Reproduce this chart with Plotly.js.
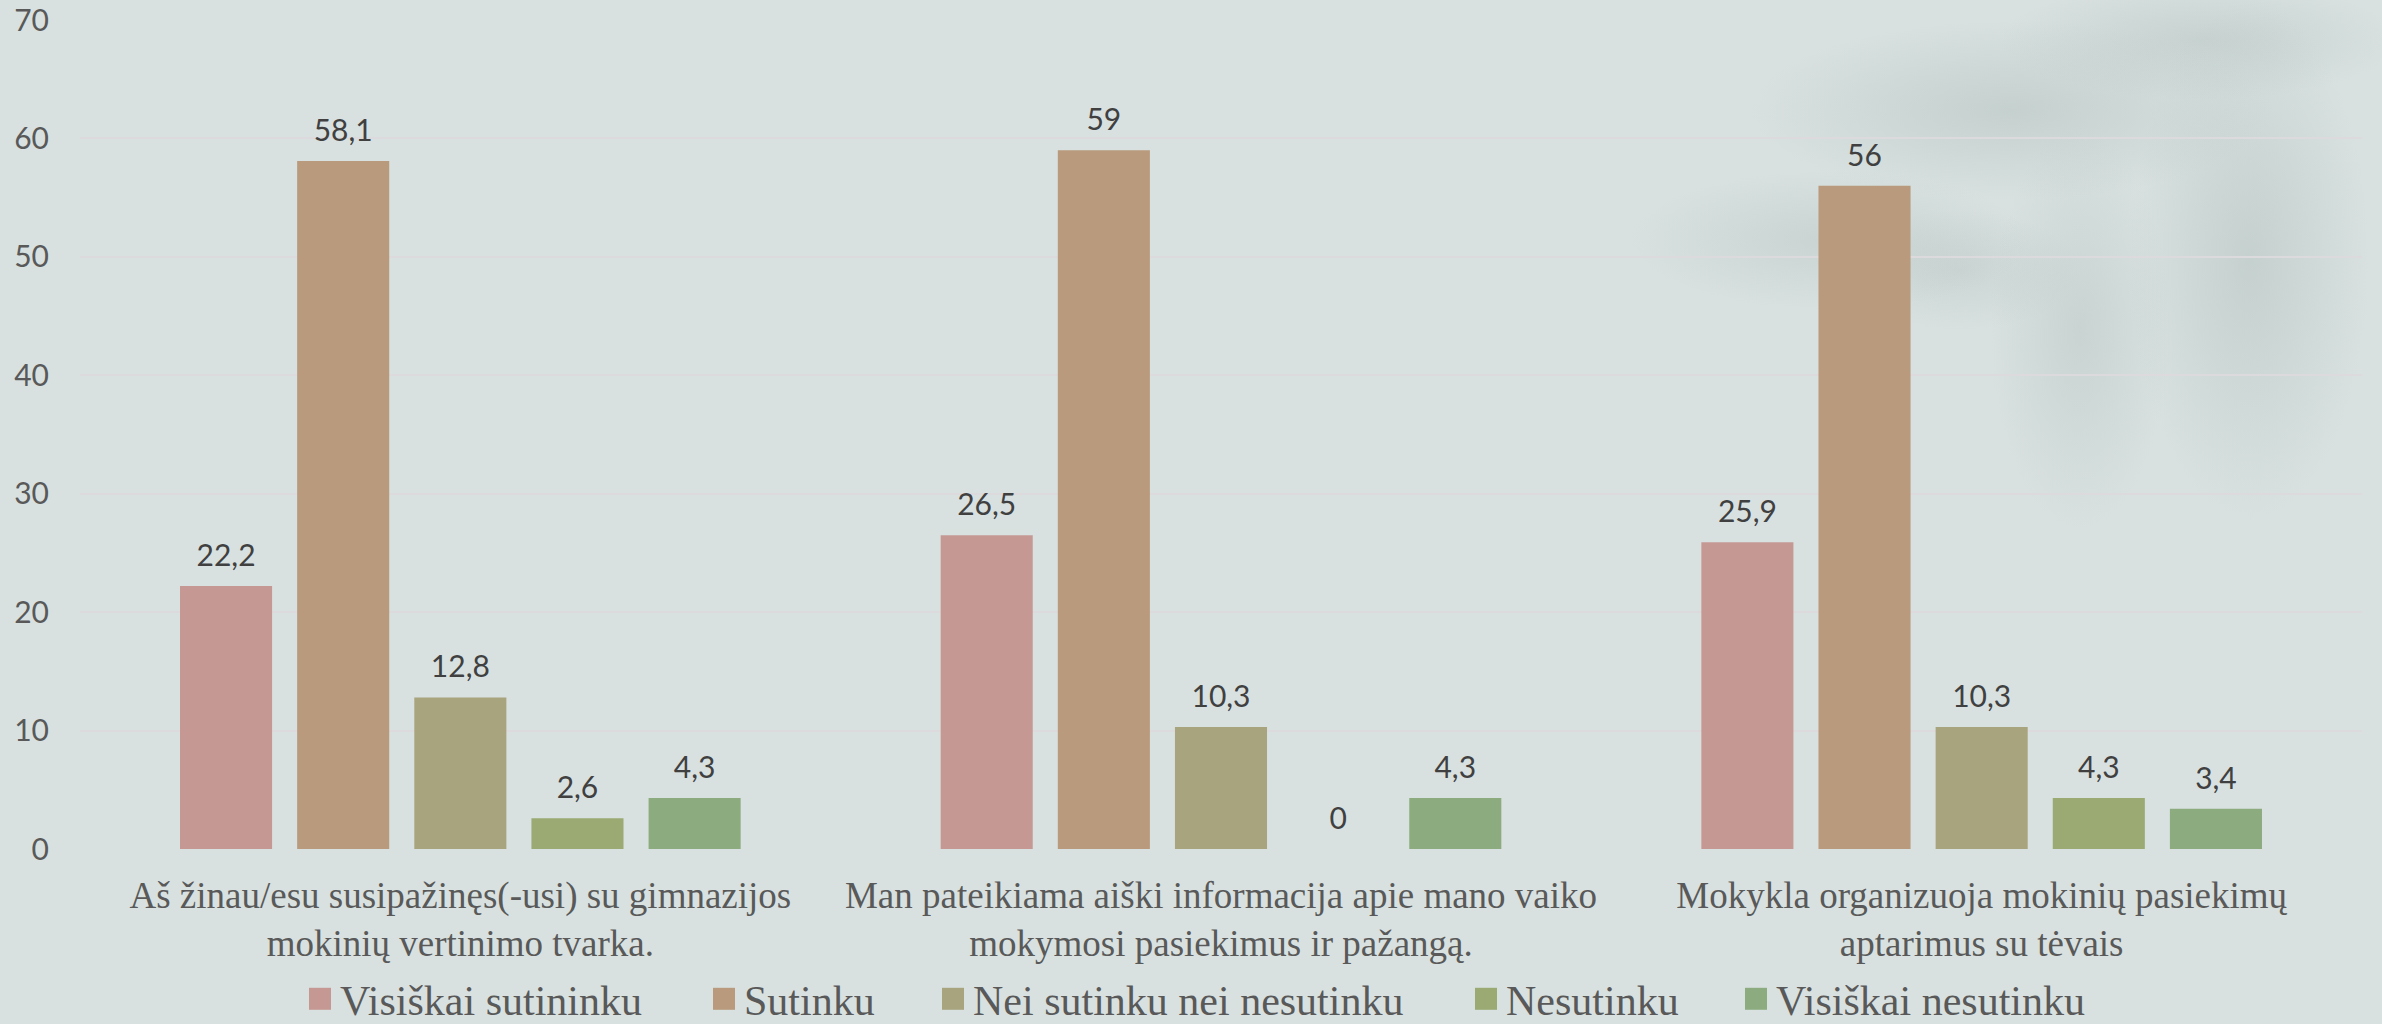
<!DOCTYPE html>
<html>
<head>
<meta charset="utf-8">
<script src="https://cdn.plot.ly/plotly-3.0.1.min.js"></script>
<style>
  html, body { margin: 0; padding: 0; }
  body { width: 2382px; height: 1024px; overflow: hidden; }
  #chart {
    width: 2382px; height: 1024px;
    background-color: #D8E1E0;
    background-image:
      radial-gradient(ellipse 260px 90px at 2010px 110px, rgba(178,192,190,0.5), rgba(178,192,190,0) 100%),
      radial-gradient(ellipse 200px 70px at 1830px 240px, rgba(178,192,190,0.4), rgba(178,192,190,0) 100%),
      radial-gradient(ellipse 120px 260px at 2250px 260px, rgba(178,192,190,0.5), rgba(178,192,190,0) 100%),
      radial-gradient(ellipse 90px 200px at 2080px 330px, rgba(178,192,190,0.4), rgba(178,192,190,0) 100%),
      radial-gradient(ellipse 200px 60px at 2200px 40px, rgba(178,192,190,0.45), rgba(178,192,190,0) 100%),
      radial-gradient(ellipse 120px 60px at 1960px 270px, rgba(178,192,190,0.35), rgba(178,192,190,0) 100%);
  }
</style>
</head>
<body>
<div id="chart"></div>
<script>
// ---- data ----
var categories = [
  "Aš žinau/esu susipažinęs(-usi) su gimnazijos<br>mokinių vertinimo tvarka.",
  "Man pateikiama aiški informacija apie mano vaiko<br>mokymosi pasiekimus ir pažangą.",
  "Mokykla organizuoja mokinių pasiekimų<br>aptarimus su tėvais"
];
var seriesNames = ["Visiškai sutininku", "Sutinku", "Nei sutinku nei nesutinku", "Nesutinku", "Visiškai nesutinku"];
var visiskaiSutinku   = [22.2, 26.5, 25.9];
var sutinku           = [58.1, 59, 56];
var neiSutinkuNei     = [12.8, 10.3, 10.3];
var nesutinku         = [2.6, 0, 4.3];
var visiskaiNesutinku = [4.3, 4.3, 3.4];
var seriesValues = [visiskaiSutinku, sutinku, neiSutinkuNei, nesutinku, visiskaiNesutinku];
var yTicks = [0, 10, 20, 30, 40, 50, 60, 70];

// ---- styles ----
var colors = ["#C69894", "#B99A7C", "#A8A47E", "#9AAA72", "#8CAC80"];
var numFont = "Lato, 'Open Sans', sans-serif";
var serifFont = "'Liberation Serif', 'Times New Roman', serif";
var legendIds = ["legend", "legend2", "legend3", "legend4", "legend5"];
var legendLeft = [300, 704, 933, 1466, 1736]; // pixel left of each legend entry

var traces = seriesValues.map(function (vals, i) {
  return {
    type: "bar",
    name: seriesNames[i],
    legend: legendIds[i],
    x: categories,
    y: vals,
    text: vals.map(function (v) { return String(v).replace(".", ","); }),
    textposition: "outside",
    cliponaxis: false,
    textfont: { family: numFont, size: 30, color: "#404040" },
    marker: { color: colors[i], line: { width: 0 } },
    hoverinfo: "skip"
  };
});

var layout = {
  width: 2382,
  height: 1024,
  margin: { l: 80, r: 20, t: 20, b: 175, autoexpand: false },
  paper_bgcolor: "rgba(0,0,0,0)",
  plot_bgcolor: "rgba(0,0,0,0)",
  barmode: "group",
  bargap: 0.23,
  bargroupgap: 0.214,
  separators: ", ",
  showlegend: true,
  xaxis: {
    type: "category",
    showline: false,
    showgrid: false,
    zeroline: false,
    ticks: "",
    tickfont: { family: serifFont, size: 37, color: "#595959" },
    ticklabelstandoff: 21
  },
  yaxis: {
    range: [0, 70],
    tickvals: yTicks,
    ticktext: yTicks.map(String),
    showline: false,
    zeroline: false,
    gridcolor: "#DCDADC",
    gridwidth: 2,
    ticks: "",
    tickfont: { family: numFont, size: 30, color: "#595959" },
    ticklabelstandoff: 30
  }
};
legendIds.forEach(function (id, i) {
  layout[id] = {
    orientation: "h",
    xref: "container",
    yref: "container",
    x: legendLeft[i] / 2382,
    xanchor: "left",
    y: 25 / 1024,
    yanchor: "middle",
    font: { family: serifFont, size: 42, color: "#595959" },
    bgcolor: "rgba(0,0,0,0)",
    borderwidth: 0
  };
});

Plotly.newPlot("chart", traces, layout, { staticPlot: true, displayModeBar: false }).then(function () {
  document.querySelectorAll(".legendpoints path").forEach(function (p) {
    p.setAttribute("d", "M11,11H-11V-11H11Z");
    p.style.strokeWidth = "0";
  });
  document.querySelectorAll("text.bartext").forEach(function (t) {
    var tr = t.getAttribute("transform") || "";
    t.setAttribute("transform", "translate(0,-11) " + tr);
  });
});
</script>
</body>
</html>
